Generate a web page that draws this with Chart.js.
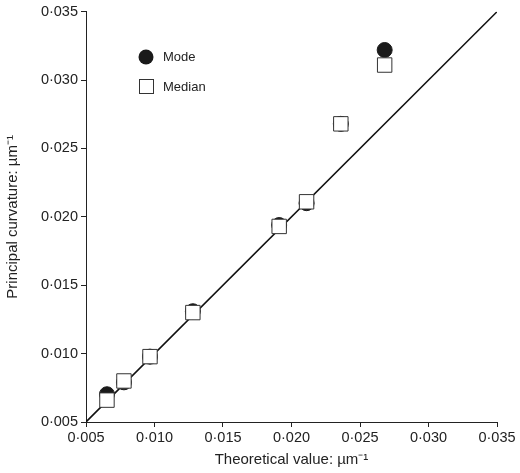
<!DOCTYPE html>
<html>
<head>
<meta charset="utf-8">
<script src="https://cdn.jsdelivr.net/npm/chart.js@4"></script>
<style>
  html, body { margin: 0; padding: 0; background: #fff; }
  #wrap { width: 520px; height: 473px; }
</style>
</head>
<body>
<div id="wrap"><canvas id="chart" width="520" height="473"></canvas></div>
<script>
// theoretical value (x) and measured principal curvature (y), µm^-1
const theoretical = [0.00653, 0.00777, 0.00967, 0.0128, 0.0191, 0.0211, 0.0236, 0.0268];
const modeValues   = [0.00703, 0.00790, 0.00978, 0.0131, 0.0194, 0.0210, 0.0268, 0.0322];
const medianValues = [0.00660, 0.00800, 0.00978, 0.0130, 0.0193, 0.0211, 0.0268, 0.0311];
const identityLine = [0.005, 0.035];
const tickValues   = [0.005, 0.010, 0.015, 0.020, 0.025, 0.030, 0.035];

const fmt = v => v.toFixed(3).replace('.', '\u00b7');
const font = { family: 'Liberation Sans, Arial, sans-serif', size: 14.5 };
const titleFont = { family: 'Liberation Sans, Arial, sans-serif', size: 15 };

const legendPlugin = {
    id: 'markerLegend',
    afterDraw(chart) {
        const ctx = chart.ctx;
        ctx.save();
        ctx.fillStyle = '#1a1a1a';
        ctx.beginPath();
        ctx.arc(146, 57, 7.5, 0, Math.PI * 2);
        ctx.fill();
        ctx.fillStyle = '#fff';
        ctx.strokeStyle = '#333';
        ctx.lineWidth = 1;
        ctx.fillRect(139, 79, 14, 14);
        ctx.strokeRect(139.5, 79.5, 14, 14);
        ctx.fillStyle = '#222';
        ctx.font = '13px Liberation Sans, Arial, sans-serif';
        ctx.textBaseline = 'middle';
        ctx.fillText('Mode', 163, 57);
        ctx.fillText('Median', 163, 87);
        ctx.restore();
    }
};

new Chart(document.getElementById('chart').getContext('2d'), {
    type: 'scatter',
    data: {
        datasets: [
            {
                type: 'line',
                data: identityLine.map(v => ({ x: v, y: v })),
                borderColor: '#111',
                borderWidth: 1.6,
                pointRadius: 0,
                order: 3
            },
            {
                label: 'Mode',
                data: theoretical.map((x, i) => ({ x, y: modeValues[i] })),
                backgroundColor: '#1a1a1a',
                borderColor: '#1a1a1a',
                pointStyle: 'circle',
                pointRadius: 7.5,
                order: 2
            },
            {
                label: 'Median',
                data: theoretical.map((x, i) => ({ x, y: medianValues[i] })),
                backgroundColor: '#fff',
                borderColor: '#333',
                borderWidth: 1,
                pointStyle: 'rect',
                pointRadius: 10.2,
                order: 1
            }
        ]
    },
    options: {
        responsive: false,
        animation: false,
        layout: { padding: { top: 8, right: 23, left: 0, bottom: 0 } },
        plugins: { legend: { display: false }, tooltip: { enabled: false } },
        scales: {
            x: {
                type: 'linear', min: 0.005, max: 0.035,
                afterBuildTicks: s => { s.ticks = tickValues.map(v => ({ value: v })); },
                afterFit: s => { s.height = 51; },
                grid: { drawOnChartArea: false, tickLength: 5, color: '#222' },
                border: { color: '#222', width: 1 },
                ticks: { color: '#222', font, padding: 2, maxRotation: 0, callback: v => fmt(v) },
                title: { display: true, text: 'Theoretical value: \u00b5m\u207b\u00b9', color: '#222', font: titleFont, padding: { top: 4 } }
            },
            y: {
                type: 'linear', min: 0.005, max: 0.035,
                afterBuildTicks: s => { s.ticks = tickValues.map(v => ({ value: v })); },
                afterFit: s => { s.width = 86; },
                grid: { drawOnChartArea: false, tickLength: 5, color: '#222' },
                border: { color: '#222', width: 1 },
                ticks: { color: '#222', font, padding: 3, callback: v => fmt(v) },
                title: { display: true, text: 'Principal curvature: \u00b5m\u207b\u00b9', color: '#222', font: titleFont, padding: { bottom: 2 } }
            }
        }
    },
    plugins: [legendPlugin]
});
</script>
</body>
</html>
